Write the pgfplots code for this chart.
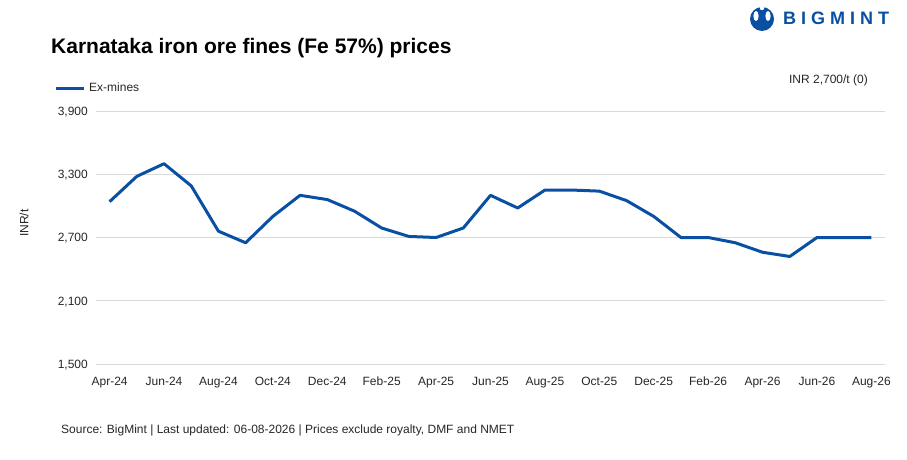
\documentclass[border=0pt]{standalone}
\usepackage{fontspec}
\setmainfont{Liberation Sans}
\usepackage{pgfplots}
\pgfplotsset{compat=1.18}
\definecolor{bmblue}{RGB}{10,80,162}
\definecolor{gridgray}{RGB}{217,217,217}
\definecolor{txt}{RGB}{38,38,38}
\begin{document}
\begin{tikzpicture}[x=1pt,y=1pt]
\path[use as bounding box] (0,0) rectangle (907,-460);
% title
\node[anchor=base west, inner sep=0pt, font=\fontsize{21}{25}\selectfont\bfseries] at (51,-53) {Karnataka iron ore fines (Fe 57\%) prices};
% logo
\fill[bmblue] (762,-19) circle (12);
\fill[white] (756,-16) ellipse (2.6 and 5);
\fill[white] (768,-16) ellipse (2.6 and 5);
\fill[white] (762,-8) circle (2.2);
\node[anchor=base west, inner sep=0pt, text=bmblue, font=\fontsize{18}{20}\selectfont\bfseries] at (783,-25) {B\kern5pt I\kern5pt G\kern5pt M\kern5pt I\kern5pt N\kern5pt T};
% latest value
\node[anchor=base east, inner sep=0pt, text=txt, font=\fontsize{12}{14}\selectfont] at (868,-83) {INR 2,700/t (0)};
% y label
\node[rotate=90, inner sep=0pt, text=txt, font=\fontsize{12}{14}\selectfont] at (24,-223) {INR/t};
% source
\node[anchor=base west, inner sep=0pt, text=txt, font=\fontsize{12}{14}\selectfont] at (61,-433) {Source: BigMint | Last updated: 06-08-2026 | Prices exclude royalty, DMF and NMET};
\begin{axis}[
  at={(96pt,-364pt)}, anchor=south west,
  scale only axis, width=789pt, height=253pt,
  xmin=-0.5, xmax=28.5, ymin=1500, ymax=3900,
  axis line style={draw=none},
  major tick length=0pt,
  ymajorgrids, grid style={gridgray, line width=1pt},
  ytick={1500,2100,2700,3300,3900},
  xtick={0,2,...,28},
  xticklabels={Apr-24,Jun-24,Aug-24,Oct-24,Dec-24,Feb-25,Apr-25,Jun-25,Aug-25,Oct-25,Dec-25,Feb-26,Apr-26,Jun-26,Aug-26},
  /pgf/number format/assume math mode=true,
  /pgf/number format/1000 sep={,},
  scaled y ticks=false,
  tick label style={text=txt, font=\fontsize{12}{14}\selectfont, inner sep=0pt},
  yticklabel style={anchor=base east, xshift=-8pt, yshift=-4.3pt},
  xticklabel style={anchor=base, yshift=-21.3pt},
  legend style={at={(-0.0532,1.0909)}, anchor=west, draw=none, fill=none, inner sep=0pt,
    nodes={inner sep=0pt, anchor=west, text=txt, font=\fontsize{12}{14}\selectfont}, column sep=4pt},
  legend image code/.code={\draw[#1] (0pt,0pt) -- (28pt,0pt);},
  clip=false,
]
\addplot[bmblue, line width=3pt, line join=round] coordinates {
(0,3040) (1,3280) (2,3400) (3,3190) (4,2760) (5,2650) (6,2900) (7,3100) (8,3060) (9,2950)
(10,2790) (11,2710) (12,2700) (13,2790) (14,3100) (15,2980) (16,3150) (17,3150) (18,3140)
(19,3050) (20,2900) (21,2700) (22,2700) (23,2650) (24,2560) (25,2520) (26,2700) (27,2700) (28,2700)
};
\addlegendentry{Ex-mines}
\end{axis}
\end{tikzpicture}
\end{document}
